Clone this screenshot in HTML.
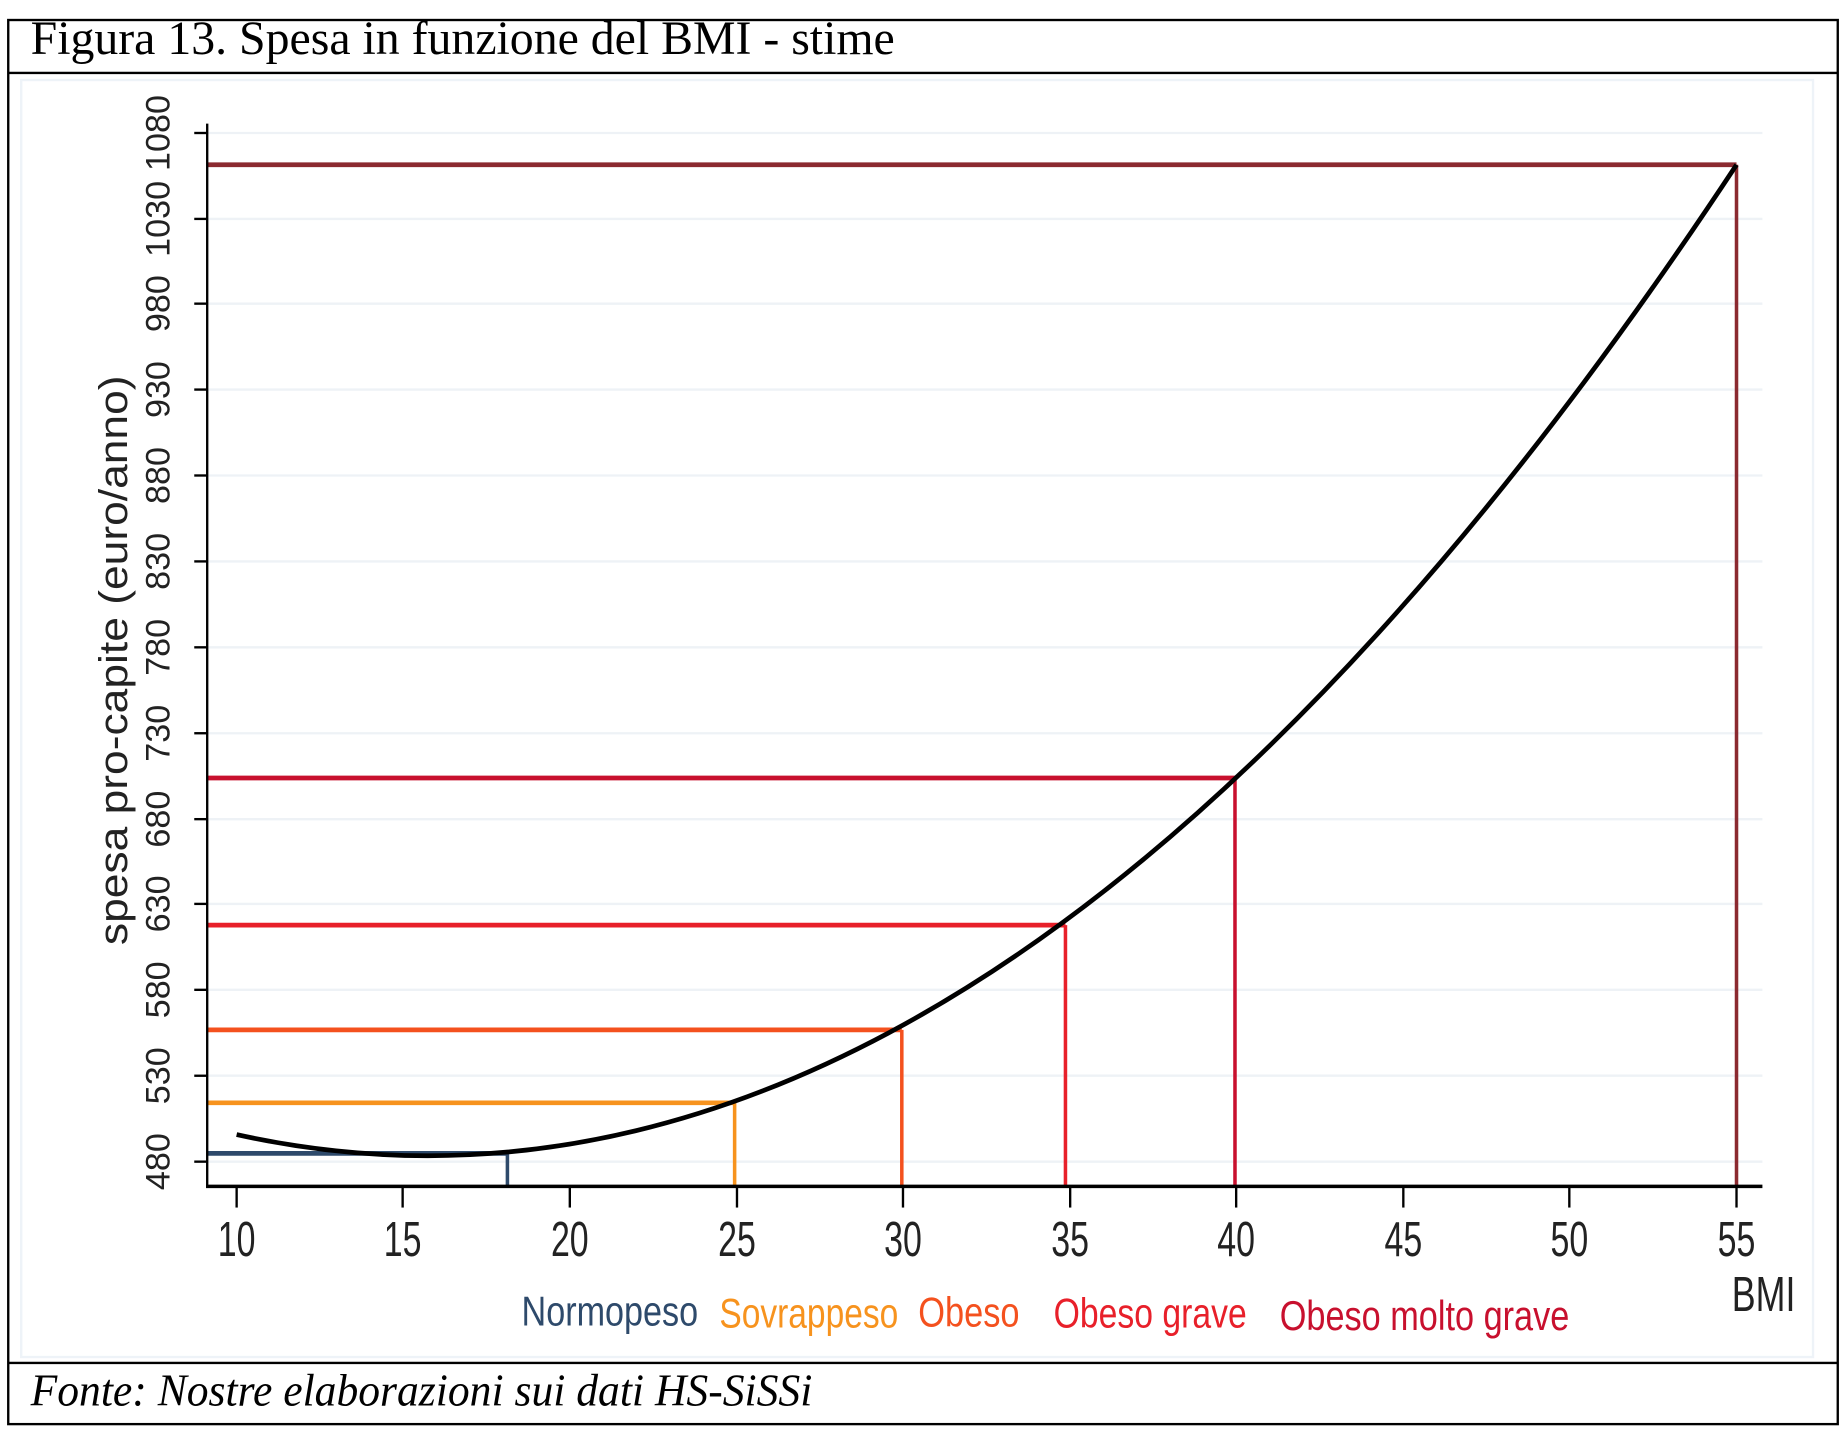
<!DOCTYPE html>
<html><head><meta charset="utf-8"><style>html,body{margin:0;padding:0;background:#fff}svg{display:block}</style></head>
<body>
<svg width="1846" height="1430" viewBox="0 0 1568 1215" preserveAspectRatio="none" xmlns="http://www.w3.org/2000/svg">
<rect x="0" y="0" width="1568" height="1215" fill="#fff"/>
<rect x="7" y="17" width="1554" height="1193" fill="none" stroke="#000" stroke-width="2"/>
<line x1="7" y1="62" x2="1561" y2="62" stroke="#000" stroke-width="2"/>
<line x1="7" y1="1158" x2="1561" y2="1158" stroke="#000" stroke-width="2"/>
<rect x="18" y="68" width="1522" height="1085" fill="none" stroke="#eef3f8" stroke-width="2"/>
<text transform="translate(26,46) scale(1,1.2)" font-family="Liberation Serif, serif" font-size="34" textLength="734" lengthAdjust="spacingAndGlyphs">Figura 13. Spesa in funzione del BMI - stime</text>
<text transform="translate(26,1194) scale(1,1.2)" font-family="Liberation Serif, serif" font-style="italic" font-size="32" textLength="664" lengthAdjust="spacingAndGlyphs">Fonte: Nostre elaborazioni sui dati HS-SiSSi</text>
<g stroke="#eef2f6" stroke-width="2">
<line x1="176" y1="987" x2="1497" y2="987"/><line x1="176" y1="914" x2="1497" y2="914"/><line x1="176" y1="841" x2="1497" y2="841"/><line x1="176" y1="768" x2="1497" y2="768"/><line x1="176" y1="696" x2="1497" y2="696"/><line x1="176" y1="623" x2="1497" y2="623"/><line x1="176" y1="550" x2="1497" y2="550"/><line x1="176" y1="477" x2="1497" y2="477"/><line x1="176" y1="404" x2="1497" y2="404"/><line x1="176" y1="331" x2="1497" y2="331"/><line x1="176" y1="258" x2="1497" y2="258"/><line x1="176" y1="186" x2="1497" y2="186"/><line x1="176" y1="113" x2="1497" y2="113"/>
</g>
<g fill="none">
<polyline points="176,980 431,980" stroke="#2e4a6b" stroke-width="4"/><line x1="431" y1="980" x2="431" y2="1008" stroke="#2e4a6b" stroke-width="3"/>
<polyline points="176,937 624,937" stroke="#f7931e" stroke-width="4"/><line x1="624" y1="937" x2="624" y2="1008" stroke="#f7931e" stroke-width="3"/>
<polyline points="176,875 766,875" stroke="#f4511e" stroke-width="4"/><line x1="766" y1="875" x2="766" y2="1008" stroke="#f4511e" stroke-width="3"/>
<polyline points="176,786 905,786" stroke="#e8202a" stroke-width="4"/><line x1="905" y1="786" x2="905" y2="1008" stroke="#e8202a" stroke-width="3"/>
<polyline points="176,661 1049,661" stroke="#c8102e" stroke-width="4"/><line x1="1049" y1="661" x2="1049" y2="1008" stroke="#c8102e" stroke-width="3"/>
<polyline points="176,140 1475,140" stroke="#8b2a30" stroke-width="4"/><line x1="1475" y1="140" x2="1475" y2="1008" stroke="#8b2a30" stroke-width="3"/>
</g>
<path d="M201,964 Q838,1105 1475,140" fill="none" stroke="#000" stroke-width="4"/>
<g stroke="#000" stroke-width="2">
<line x1="176" y1="105" x2="176" y2="1009"/>
<line x1="175" y1="1008" x2="1497" y2="1008" stroke-width="3"/>
<line x1="165" y1="987" x2="176" y2="987"/><line x1="165" y1="914" x2="176" y2="914"/><line x1="165" y1="841" x2="176" y2="841"/><line x1="165" y1="768" x2="176" y2="768"/><line x1="165" y1="696" x2="176" y2="696"/><line x1="165" y1="623" x2="176" y2="623"/><line x1="165" y1="550" x2="176" y2="550"/><line x1="165" y1="477" x2="176" y2="477"/><line x1="165" y1="404" x2="176" y2="404"/><line x1="165" y1="331" x2="176" y2="331"/><line x1="165" y1="258" x2="176" y2="258"/><line x1="165" y1="186" x2="176" y2="186"/><line x1="165" y1="113" x2="176" y2="113"/>
<line x1="201" y1="1008" x2="201" y2="1026"/><line x1="342" y1="1008" x2="342" y2="1026"/><line x1="484" y1="1008" x2="484" y2="1026"/><line x1="626" y1="1008" x2="626" y2="1026"/><line x1="767" y1="1008" x2="767" y2="1026"/><line x1="909" y1="1008" x2="909" y2="1026"/><line x1="1050" y1="1008" x2="1050" y2="1026"/><line x1="1192" y1="1008" x2="1192" y2="1026"/><line x1="1333" y1="1008" x2="1333" y2="1026"/><line x1="1475" y1="1008" x2="1475" y2="1026"/>
</g>
<g font-family="Liberation Sans, sans-serif" font-size="29" fill="#222" text-anchor="middle">
<text transform="translate(144,987) rotate(-90)">480</text><text transform="translate(144,914) rotate(-90)">530</text><text transform="translate(144,841) rotate(-90)">580</text><text transform="translate(144,768) rotate(-90)">630</text><text transform="translate(144,696) rotate(-90)">680</text><text transform="translate(144,623) rotate(-90)">730</text><text transform="translate(144,550) rotate(-90)">780</text><text transform="translate(144,477) rotate(-90)">830</text><text transform="translate(144,404) rotate(-90)">880</text><text transform="translate(144,331) rotate(-90)">930</text><text transform="translate(144,258) rotate(-90)">980</text><text transform="translate(144,186) rotate(-90)">1030</text><text transform="translate(144,113) rotate(-90)">1080</text>
<text transform="translate(108,561) rotate(-90)" font-size="34" textLength="484" lengthAdjust="spacingAndGlyphs">spesa pro-capite (euro/anno)</text>
</g>
<g font-family="Liberation Sans, sans-serif" font-size="32" fill="#222" text-anchor="middle">
<text transform="translate(201,1067) scale(0.9,1.3)">10</text><text transform="translate(342,1067) scale(0.9,1.3)">15</text><text transform="translate(484,1067) scale(0.9,1.3)">20</text><text transform="translate(626,1067) scale(0.9,1.3)">25</text><text transform="translate(767,1067) scale(0.9,1.3)">30</text><text transform="translate(909,1067) scale(0.9,1.3)">35</text><text transform="translate(1050,1067) scale(0.9,1.3)">40</text><text transform="translate(1192,1067) scale(0.9,1.3)">45</text><text transform="translate(1333,1067) scale(0.9,1.3)">50</text><text transform="translate(1475,1067) scale(0.9,1.3)">55</text>
<text transform="translate(1498,1114) scale(0.95,1.3)">BMI</text>
</g>
<g font-family="Liberation Sans, sans-serif" font-size="27">
<text transform="translate(443,1126) scale(1,1.3)" fill="#2e4a6b" textLength="150" lengthAdjust="spacingAndGlyphs">Normopeso</text>
<text transform="translate(611,1128) scale(1,1.3)" fill="#f7931e" textLength="152" lengthAdjust="spacingAndGlyphs">Sovrappeso</text>
<text transform="translate(780,1127) scale(1,1.3)" fill="#f4511e" textLength="86" lengthAdjust="spacingAndGlyphs">Obeso</text>
<text transform="translate(895,1128) scale(1,1.3)" fill="#e8202a" textLength="164" lengthAdjust="spacingAndGlyphs">Obeso grave</text>
<text transform="translate(1087,1130) scale(1,1.3)" fill="#c8102e" textLength="246" lengthAdjust="spacingAndGlyphs">Obeso molto grave</text>
</g>
</svg>
</body></html>
